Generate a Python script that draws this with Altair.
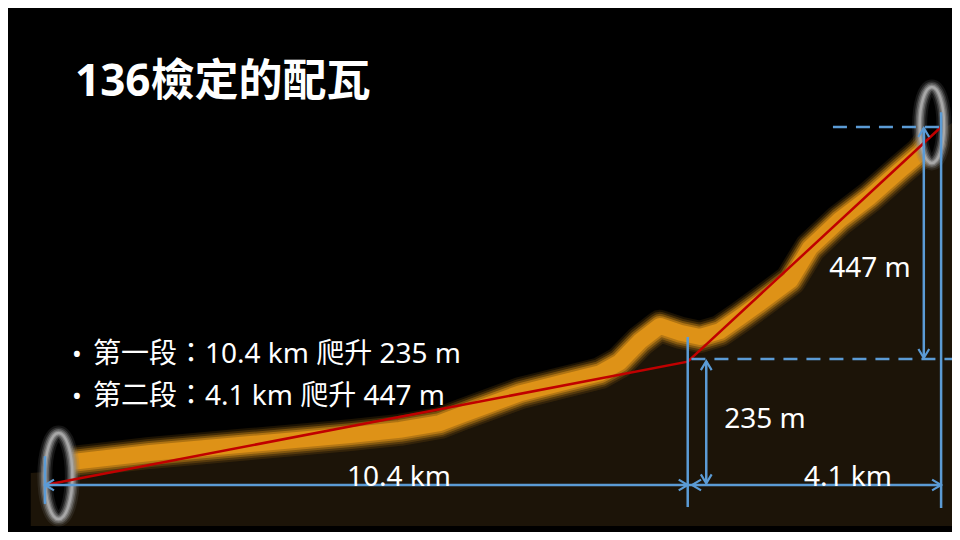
import altair as alt
import pandas as pd

# ---------------- data ----------------
title_text = "136檢定的配瓦"
seg_names = ["第一段", "第二段"]
seg_km = [10.4, 4.1]          # horizontal length of each section
seg_climb = [235, 447]        # climb of each section (m)

# elevation profile (distance from start in km, climb from start in m)
profile_km = [0.00, 0.24, 0.45, 1.70, 3.32, 4.94, 5.74, 6.39, 6.72, 7.69, 8.33,
              8.98, 9.30, 9.63, 9.95, 10.28, 10.60, 10.92, 11.25, 11.57, 12.06,
              12.38, 12.86, 13.35, 13.84, 14.16, 14.40]
profile_m = [25, 29, 44, 61, 78, 95, 105, 118, 133, 175, 194,
             213, 234, 274, 303, 290, 282, 293, 320, 347, 390,
             452, 505, 549, 600, 632, 667]
ground_km = [-0.23, 14.68]     # shaded ground starts / ends
ground_m = [23, 690]
ground_base = -78

# start / finish markers
ring_km = [0.22, 14.35]
ring_m = [17, 686]
ring_h = [86, 76]

# ---------------- derived ----------------
d1 = seg_km[0]
d2 = seg_km[0] + seg_km[1]
h1 = seg_climb[0]
h2 = seg_climb[0] + seg_climb[1]

area_df = pd.DataFrame({
    "km": [ground_km[0]] + profile_km + [ground_km[1]],
    "m": [ground_m[0]] + profile_m + [ground_m[1]],
})
area_df["base"] = ground_base
prof_df = pd.DataFrame({"km": profile_km, "m": profile_m})
red_df = pd.DataFrame({"km": [0, d1, d2], "m": [0, h1, h2]})
ring_df = pd.DataFrame({"km": ring_km, "m": ring_m, "s": [h * h for h in ring_h]})

solid_df = pd.DataFrame([
    dict(x=0, x2=d2, y=0, y2=0),
    dict(x=0, x2=0, y=-36, y2=55),
    dict(x=d1, x2=d1, y=-42, y2=282),
    dict(x=d2, x2=d2, y=-44, y2=710),
    dict(x=d1 + 0.3, x2=d1 + 0.3, y=3, y2=h1 + 1),
    dict(x=d2 - 0.28, x2=d2 - 0.28, y=h1 + 7, y2=h2 - 2),
])
dash_df = pd.DataFrame([
    dict(x=d1 + 0.06, x2=d2 + 0.19, y=h1 + 5, y2=h1 + 5),
    dict(x=12.75, x2=d2 + 0.1, y=h2, y2=h2),
])
arrow_df = pd.DataFrame([
    dict(x=0, y=0, a=270),
    dict(x=d1, y=0, a=90),
    dict(x=d1 + 0.07, y=0, a=270),
    dict(x=d2, y=0, a=90),
    dict(x=d1 + 0.3, y=h1 + 1, a=0),
    dict(x=d1 + 0.3, y=3, a=180),
    dict(x=d2 - 0.28, y=h2 - 2, a=0),
    dict(x=d2 - 0.28, y=h1 + 7, a=180),
])

# ---------------- scales ----------------
xs = alt.Scale(domain=[-0.5987, 14.6764], nice=False, zero=False)
ys = alt.Scale(domain=[-89.54, 908.69], nice=False, zero=False)


def X(f):
    return alt.X(f"{f}:Q", scale=xs, axis=None)


def Y(f):
    return alt.Y(f"{f}:Q", scale=ys, axis=None)


BLUE = "#5B9BD5"
ORANGE = "#DE9217"
FONT = "Noto Sans, Noto Sans CJK TC"

layers = []

# ground
layers.append(alt.Chart(area_df).mark_area(color="#1C1408", interpolate="linear").encode(
    x=X("km"), y=Y("m"), y2="base"))

# glowing (blurred) profile
for w, op in [(32, 0.12), (28, 0.2), (24, 0.35), (20, 0.55), (16, 1.0)]:
    layers.append(alt.Chart(prof_df).mark_line(
        color=ORANGE, strokeWidth=w, opacity=op, strokeCap="butt", strokeJoin="round"
    ).encode(x=X("km"), y=Y("m")))

# rings (soft grey halo with black centre)
ell = "M0,-1A0.32,1,0,1,1,0,1A0.32,1,0,1,1,0,-1Z"
layers.append(alt.Chart(ring_df).mark_point(
    shape=ell, filled=True, fill="black", stroke="#777777", strokeWidth=15, opacity=1,
    fillOpacity=1, strokeOpacity=0.18
).encode(x=X("km"), y=Y("m"), size=alt.Size("s:Q", scale=None)))
for w, c, op in [(11, "#808080", 0.3), (8, "#909090", 0.45), (5, "#9c9c9c", 0.6), (2.5, "#b0b0b0", 0.8)]:
    layers.append(alt.Chart(ring_df).mark_point(
        shape=ell, filled=False, stroke=c, strokeWidth=w, opacity=op
    ).encode(x=X("km"), y=Y("m"), size=alt.Size("s:Q", scale=None)))

# red average-gradient line
layers.append(alt.Chart(red_df).mark_line(color="#C00000", strokeWidth=2.5).encode(
    x=X("km"), y=Y("m")))

# blue dimension lines
layers.append(alt.Chart(solid_df).mark_rule(color=BLUE, strokeWidth=2.5).encode(
    x=X("x"), x2="x2", y=Y("y"), y2="y2"))
layers.append(alt.Chart(dash_df).mark_rule(color=BLUE, strokeWidth=2.5, strokeDash=[14, 9]).encode(
    x=X("x"), x2="x2", y=Y("y"), y2="y2"))
layers.append(alt.Chart(arrow_df).mark_point(
    shape="M-0.6,1L0,0L0.6,1", filled=False, stroke=BLUE, strokeWidth=2.2, size=324, opacity=1
).encode(x=X("x"), y=Y("y"), angle=alt.Angle("a:Q", scale=None)))


def label(text, x, y, size, align="left", weight="normal"):
    return alt.Chart(pd.DataFrame({"t": [text]})).mark_text(
        align=align, baseline="alphabetic", font=FONT, fontSize=size,
        color="white", fontWeight=weight
    ).encode(x=alt.value(x), y=alt.value(y), text="t:N")


layers.append(label(title_text, 67, 88, 44, weight="bold"))
bullet_y = [355, 397]
for name, km, climb, by in zip(seg_names, seg_km, seg_climb, bullet_y):
    layers.append(label("•", 69, by, 26, align="center"))
    layers.append(label(f"{name}：{km} km 爬升 {climb} m", 85, by, 28))

layers.append(label(f"{seg_km[0]} km", 391, 478, 28, align="center"))
layers.append(label(f"{seg_km[1]} km", 840, 478, 28, align="center"))
layers.append(label(f"{seg_climb[0]} m", 757, 420, 28, align="center"))
layers.append(label(f"{seg_climb[1]} m", 862, 269, 28, align="center"))

chart = alt.layer(*layers).properties(
    width=944, height=524, background="black", padding=0,
    autosize=alt.AutoSizeParams(type="none"),
).configure_view(stroke=None)

chart.save("out.html", embed_options={"renderer": "svg", "actions": False})
